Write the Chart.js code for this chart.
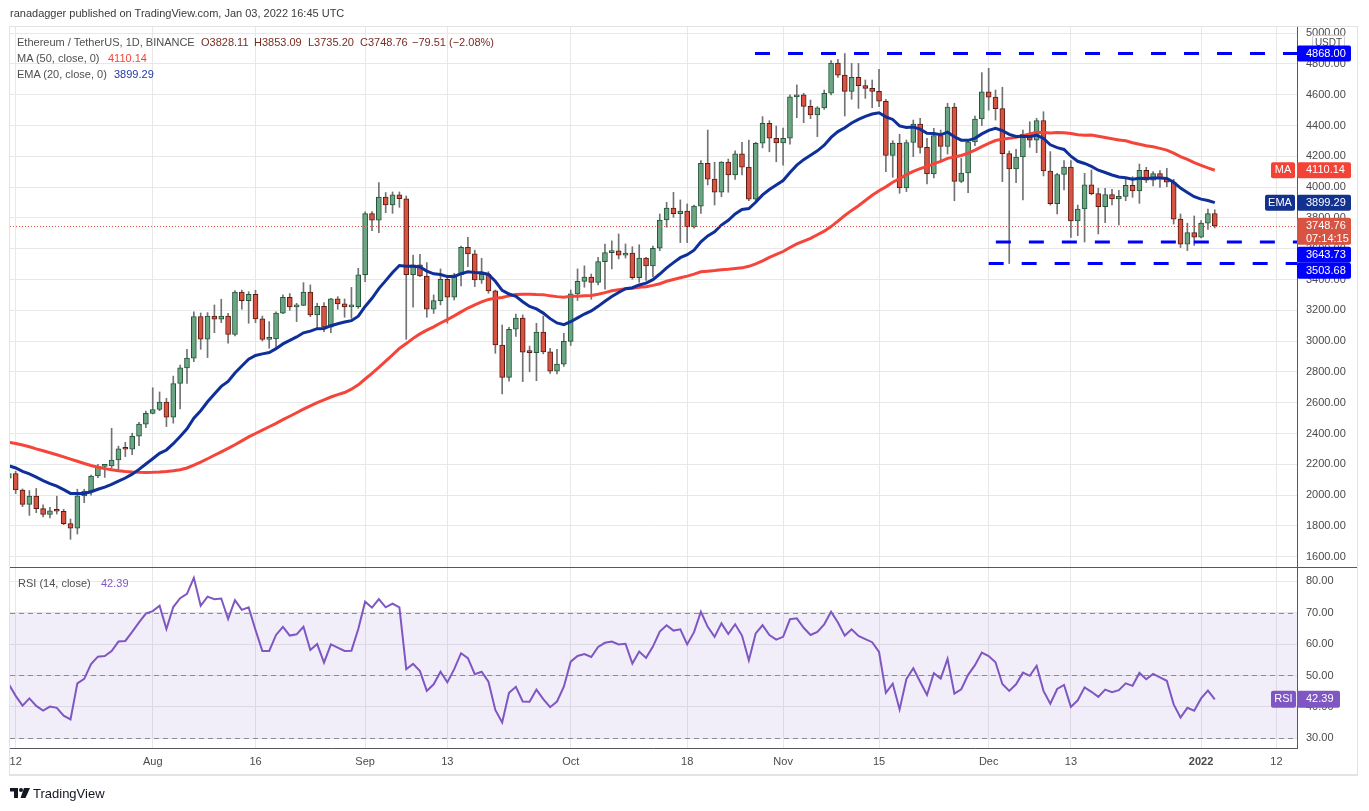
<!DOCTYPE html>
<html>
<head>
<meta charset="utf-8">
<title>ETHUSDT 1D</title>
<script src="https://cdn.jsdelivr.net/npm/chart.js@4.4.1/dist/chart.umd.min.js"></script>
<style>
  html, body { margin: 0; background: #fff; }
  #wrap { position: relative; width: 1369px; height: 811px; overflow: hidden; font-family: 'Liberation Sans', Arial, sans-serif; font-size: 11px; }
  canvas { position: absolute; left: 0; }
  .t { position: absolute; white-space: pre; line-height: 13px; color: #4f4f4f; }
  #frame { position: absolute; left: 9px; top: 26px; width: 1347px; height: 747px; border: 1px solid #e3e3e3; border-bottom-width: 2px; pointer-events: none; }
</style>
</head>
<body>
<div id="wrap">
  <canvas id="price" width="1369" height="568" style="top:0"></canvas>
  <canvas id="rsi" width="1369" height="244" style="top:567px"></canvas>
  <div id="frame"></div>

  <div class="t" style="left:10px;top:7px;color:#3a3a3a">ranadagger published on TradingView.com, Jan 03, 2022 16:45 UTC</div>

  <div class="t" style="left:17px;top:36px">Ethereum / TetherUS, 1D, BINANCE</div>
  <div class="t" style="left:201px;top:36px;color:#7a2b22">O3828.11</div>
  <div class="t" style="left:254px;top:36px;color:#7a2b22">H3853.09</div>
  <div class="t" style="left:308px;top:36px;color:#7a2b22">L3735.20</div>
  <div class="t" style="left:360px;top:36px;color:#7a2b22">C3748.76</div>
  <div class="t" style="left:412px;top:36px;color:#7a2b22">−79.51 (−2.08%)</div>
  <div class="t" style="left:17px;top:52px">MA (50, close, 0)</div>
  <div class="t" style="left:108px;top:52px;color:#f44336">4110.14</div>
  <div class="t" style="left:17px;top:68px">EMA (20, close, 0)</div>
  <div class="t" style="left:114px;top:68px;color:#1f3aa5">3899.29</div>

  <div class="t" style="left:18px;top:577px">RSI (14, close)</div>
  <div class="t" style="left:101px;top:577px;color:#7e57c2">42.39</div>

  <svg style="position:absolute;left:10px;top:788px" width="21" height="11" viewBox="0 0 21 11">
    <path d="M0 0H8V10H4V3.5H0Z" fill="#131722"/>
    <circle cx="11" cy="2" r="2" fill="#131722"/>
    <path d="M14 0H20L15.5 10H10.5Z" fill="#131722"/>
  </svg>
  <div class="t" style="left:33px;top:786px;font-size:13px;line-height:16px;color:#131722">TradingView</div>
</div>

<script>
// day index: 0 = 12 Jul 2021, first candle (-1) = 11 Jul 2021, last (175) = 3 Jan 2022
const firstDay = -1;

const opens = [
  2110, 2139, 2033, 1940, 1994, 1912, 1874, 1898, 1895, 1815,
  1785, 1995, 2026, 2124, 2186, 2190, 2228, 2300, 2298, 2382,
  2461, 2531, 2556, 2604, 2506, 2725, 2826, 2890, 3160, 3012,
  3163, 3142, 3163, 3043, 3318, 3262, 3304, 3145, 3011, 3014,
  3182, 3285, 3222, 3232, 3318, 3170, 3226, 3090, 3274, 3242,
  3222, 3224, 3431, 3828, 3785, 3936, 3884, 3950, 3925, 3432,
  3496, 3423, 3207, 3263, 3402, 3285, 3431, 3609, 3567, 3397,
  3434, 3326, 2975, 2765, 3077, 3150, 2928, 2925, 3058, 2930,
  2805, 2851, 2998, 3307, 3388, 3416, 3382, 3516, 3575, 3586,
  3558, 3572, 3412, 3540, 3488, 3603, 3787, 3864, 3828, 3844,
  3742, 3877, 4155, 4052, 3968, 4163, 4080, 4216, 4130, 3922,
  4285, 4414, 4318, 4287, 4318, 4586, 4600, 4525, 4470, 4515,
  4610, 4806, 4728, 4622, 4713, 4660, 4642, 4622, 4558, 4206,
  4287, 3995, 4290, 4410, 4258, 4086, 4335, 4265, 4520, 4038,
  4092, 4294, 4443, 4620, 4585, 4510, 4218, 4118, 4196, 4343,
  4305, 4433, 4105, 3893, 4082, 4130, 3780, 3858, 4015, 3958,
  3874, 3952, 3924, 3940, 4012, 3975, 4110, 4045, 4088, 4058,
  4032, 3792, 3629, 3705, 3675, 3766, 3828.11
];
const highs = [
  2150, 2155, 2040, 2030, 2043, 1936, 1921, 1993, 1908, 1845,
  2038, 2038, 2130, 2200, 2195, 2434, 2318, 2343, 2402, 2473,
  2546, 2697, 2670, 2629, 2773, 2845, 2947, 3191, 3183, 3185,
  3235, 3272, 3180, 3328, 3332, 3321, 3330, 3163, 3127, 3190,
  3300, 3309, 3246, 3380, 3365, 3246, 3250, 3278, 3289, 3274,
  3349, 3473, 3839, 3841, 4030, 3965, 3969, 3969, 3943, 3559,
  3564, 3510, 3300, 3469, 3429, 3441, 3618, 3674, 3591, 3538,
  3451, 3332, 3105, 3090, 3176, 3170, 2968, 3116, 3163, 2954,
  2947, 3050, 3332, 3469, 3489, 3436, 3545, 3631, 3651, 3696,
  3631, 3613, 3626, 3545, 3617, 3826, 3902, 3967, 3917, 3891,
  3884, 4172, 4371, 4162, 4166, 4183, 4236, 4292, 4306, 4291,
  4458, 4432, 4397, 4383, 4599, 4664, 4610, 4566, 4523, 4631,
  4822, 4830, 4868, 4804, 4804, 4696, 4696, 4765, 4570, 4302,
  4343, 4306, 4436, 4447, 4317, 4382, 4371, 4545, 4545, 4187,
  4306, 4462, 4744, 4772, 4631, 4649, 4235, 4246, 4371, 4425,
  4447, 4490, 4231, 4090, 4172, 4172, 3884, 4090, 4112, 3993,
  3993, 3986, 3980, 4057, 4068, 4150, 4129, 4101, 4107, 4122,
  4051, 3826, 3766, 3813, 3783, 3858, 3853.09
];
const lows = [
  2085, 2010, 1925, 1868, 1886, 1858, 1852, 1877, 1808, 1713,
  1747, 1951, 2000, 2113, 2115, 2175, 2160, 2250, 2262, 2321,
  2438, 2527, 2548, 2445, 2467, 2560, 2726, 2866, 2947, 2893,
  3055, 3120, 2986, 3033, 3207, 3116, 3120, 3001, 2954, 2960,
  3178, 3200, 3127, 3230, 3159, 3083, 3062, 3055, 3207, 3155,
  3148, 3213, 3386, 3717, 3705, 3834, 3830, 3869, 3012, 3220,
  3419, 3155, 3180, 3235, 3116, 3267, 3358, 3483, 3354, 3375,
  3311, 2921, 2657, 2740, 3030, 2737, 2801, 2743, 2917, 2791,
  2787, 2835, 2972, 3264, 3350, 3272, 3365, 3338, 3469, 3534,
  3540, 3402, 3382, 3395, 3418, 3588, 3740, 3804, 3640, 3640,
  3733, 3830, 4014, 3884, 3938, 3967, 4051, 4079, 3912, 3900,
  4255, 4230, 4165, 4143, 4280, 4451, 4419, 4445, 4328, 4505,
  4599, 4713, 4462, 4571, 4512, 4577, 4516, 4523, 4100, 4064,
  3960, 3971, 4198, 4220, 4021, 4060, 4165, 4215, 3912, 4030,
  3965, 4270, 4400, 4500, 4436, 4036, 3503.68, 4030, 3917, 4259,
  4224, 4073, 3884, 3826, 3982, 3674, 3685, 3643.73, 3950, 3696,
  3770, 3884, 3754, 3912, 3934, 3895, 4030, 4008, 3999, 4003,
  3761, 3608, 3588, 3622, 3670, 3726, 3735.20
];
const closes = [
  2139, 2033, 1940, 1994, 1912, 1874, 1898, 1895, 1815, 1785,
  1995, 2026, 2124, 2186, 2190, 2228, 2300, 2298, 2382, 2461,
  2531, 2556, 2604, 2506, 2725, 2826, 2890, 3160, 3012, 3163,
  3142, 3163, 3043, 3318, 3262, 3304, 3145, 3011, 3014, 3182,
  3285, 3222, 3232, 3318, 3170, 3226, 3090, 3274, 3242, 3222,
  3224, 3431, 3828, 3785, 3936, 3884, 3950, 3925, 3432, 3496,
  3423, 3207, 3263, 3402, 3285, 3431, 3609, 3567, 3397, 3434,
  3326, 2975, 2765, 3077, 3150, 2928, 2925, 3058, 2930, 2805,
  2851, 2998, 3307, 3388, 3416, 3382, 3516, 3575, 3586, 3558,
  3572, 3412, 3540, 3488, 3603, 3787, 3864, 3828, 3844, 3742,
  3877, 4155, 4052, 3968, 4163, 4080, 4216, 4130, 3922, 4285,
  4414, 4318, 4287, 4318, 4586, 4600, 4525, 4470, 4515, 4610,
  4806, 4728, 4622, 4713, 4660, 4642, 4622, 4558, 4206, 4287,
  3995, 4290, 4410, 4258, 4086, 4335, 4265, 4520, 4038, 4092,
  4294, 4443, 4620, 4585, 4510, 4218, 4118, 4196, 4343, 4305,
  4433, 4105, 3893, 4082, 4130, 3780, 3858, 4015, 3958, 3874,
  3952, 3924, 3940, 4012, 3975, 4110, 4045, 4088, 4058, 4032,
  3792, 3629, 3705, 3675, 3766, 3828.11, 3748.76
];
const ma50 = [
  2343, 2335, 2325, 2314, 2300, 2288, 2275, 2262, 2248, 2234,
  2220, 2205, 2192, 2181, 2172, 2164, 2158, 2153, 2150, 2148,
  2147, 2148, 2150, 2153, 2158, 2165, 2176, 2195, 2214, 2236,
  2259, 2281, 2303, 2327, 2352, 2378, 2400, 2422, 2444, 2466,
  2490, 2512, 2535, 2558, 2580, 2600, 2618, 2637, 2652, 2666,
  2688, 2716, 2754, 2790, 2830, 2870, 2911, 2952, 2984, 3018,
  3047, 3071, 3093, 3118, 3140, 3164, 3190, 3215, 3236, 3255,
  3271, 3279, 3283, 3294, 3303, 3305, 3305, 3303, 3302, 3294,
  3289, 3285, 3291, 3292, 3295, 3297, 3304, 3315, 3327, 3334,
  3340, 3344, 3350, 3353, 3362, 3373, 3389, 3400, 3412, 3422,
  3435, 3450, 3454, 3458, 3463, 3467, 3472, 3476, 3486, 3502,
  3521, 3544, 3564, 3582, 3608, 3632, 3650, 3668, 3691, 3714,
  3744, 3779, 3816, 3849, 3879, 3913, 3947, 3977, 4002, 4032,
  4055, 4081, 4103, 4120, 4134, 4153, 4168, 4187, 4196, 4206,
  4221, 4241, 4263, 4285, 4303, 4312, 4317, 4324, 4334, 4345,
  4356, 4355, 4352, 4355, 4354, 4348, 4341, 4338, 4339, 4331,
  4322, 4314, 4307, 4301, 4289, 4279, 4269, 4262, 4252, 4241,
  4221, 4199, 4180, 4159, 4142, 4125, 4110.14
];
const ema20 = [
  2191, 2176, 2154, 2138, 2117, 2094, 2075, 2058, 2035, 2011,
  2010, 2011, 2022, 2038, 2052, 2069, 2091, 2111, 2136, 2167,
  2202, 2236, 2271, 2293, 2334, 2381, 2430, 2499, 2548, 2606,
  2657, 2706, 2738, 2793, 2838, 2882, 2907, 2917, 2926, 2951,
  2982, 3005, 3027, 3054, 3065, 3081, 3082, 3100, 3113, 3124,
  3133, 3162, 3225, 3278, 3341, 3393, 3446, 3491, 3486, 3487,
  3481, 3455, 3437, 3433, 3419, 3420, 3438, 3450, 3445, 3444,
  3433, 3389, 3330, 3306, 3291, 3256, 3225, 3209, 3182, 3146,
  3118, 3107, 3126, 3151, 3176, 3196, 3226, 3259, 3290, 3316,
  3340, 3347, 3365, 3377, 3399, 3436, 3476, 3510, 3542, 3561,
  3591, 3645, 3683, 3710, 3754, 3785, 3826, 3855, 3861, 3902,
  3950, 3985, 4014, 4043, 4095, 4143, 4179, 4207, 4236, 4272,
  4323, 4361, 4386, 4417, 4440, 4460, 4475, 4483, 4457, 4440,
  4398, 4388, 4390, 4377, 4350, 4348, 4340, 4357, 4327, 4305,
  4304, 4317, 4346, 4369, 4382, 4367, 4343, 4329, 4330, 4328,
  4338, 4316, 4275, 4257, 4245, 4201, 4168, 4154, 4135, 4110,
  4095, 4079, 4066, 4061, 4052, 4058, 4057, 4060, 4060, 4057,
  4032, 3994, 3966, 3938, 3922, 3913, 3899.29
];
const rsi14 = [
  47.2, 43.5, 40.4, 42.7, 40.3, 38.8, 40.1, 39.7, 37.2, 36.0,
  47.5, 48.9, 53.6, 56.0, 56.2, 57.8, 60.8, 61.0, 63.9, 66.9,
  69.7, 70.5, 72.2, 64.8, 71.8, 74.6, 76.0, 81.1, 72.2, 75.1,
  74.3, 74.5, 68.0, 74.0, 70.9, 71.7, 64.5, 57.8, 57.8, 62.9,
  65.5, 62.7, 63.1, 65.5, 58.1, 60.0, 54.1, 59.9, 58.9, 57.8,
  57.9, 64.8, 73.5, 71.6, 74.3, 71.7, 72.9, 71.7, 52.0, 53.7,
  51.4, 45.1, 47.2, 51.2, 47.8, 52.0, 57.1, 55.5, 50.4, 51.2,
  48.0, 39.0, 35.0, 44.5, 46.4, 41.7, 41.6, 45.5, 42.5, 39.9,
  41.7, 46.4, 54.4, 56.2, 56.8, 55.9, 59.1, 60.4, 60.8, 59.9,
  60.1, 53.8, 57.6, 55.6, 59.2, 64.0, 66.0, 64.3, 64.7, 59.9,
  63.8, 70.3, 65.5, 62.3, 66.6, 63.2, 66.3, 62.7, 54.8, 63.4,
  66.0, 62.9, 61.4, 62.3, 67.9, 68.2, 65.2, 62.9, 63.9, 66.3,
  70.3, 66.9, 62.7, 64.7, 62.6, 61.6, 60.6, 57.5, 44.5, 47.4,
  39.2, 48.9, 52.3, 48.0, 43.8, 50.7, 49.0, 55.3, 44.2, 45.6,
  50.2, 53.3, 57.3, 56.2, 54.2, 47.3, 45.1, 47.2, 50.9, 49.9,
  53.1, 45.1, 41.0, 45.7, 47.0, 40.0, 42.1, 46.2, 44.8, 43.2,
  45.5, 44.7, 45.3, 47.5, 46.7, 50.8, 48.8, 50.5, 49.4, 48.3,
  40.8, 36.6, 39.7, 38.8, 42.7, 45.2, 42.39
];

const tickDays = [0, 20, 35, 51, 63, 81, 98, 112, 126, 142, 154, 173, 184];
const tickLabels = ['12', 'Aug', '16', 'Sep', '13', 'Oct', '18', 'Nov', '15', 'Dec', '13', '2022', '12'];
const priceTicks = [1600, 1800, 2000, 2200, 2400, 2600, 2800, 3000, 3200, 3400, 3600, 3800, 4000, 4200, 4400, 4600, 4800, 5000];
const rsiTicks = [30, 40, 50, 60, 70, 80];

// drawn horizontal levels (price) and the day they start from
const levels = [4868.00, 3643.73, 3503.68];
const levelFrom = [107.9, 143.05, 142.0];

const lastClose = 3748.76;
const lastMA = 4110.14;
const lastEMA = 3899.29;
const lastRSI = 42.39;

// ---- look ----
const FONT = "'Liberation Sans', Arial, sans-serif";
Chart.defaults.font.family = FONT;
Chart.defaults.font.size = 11;
Chart.defaults.color = '#4a4a4a';

const gridColor = '#e8e8e8';
const axisLine = '#55585f';
const xMin = -0.83, xMax = 187.0;

const xs = closes.map((_, k) => k + firstDay);
const up = closes.map((c, k) => c >= opens[k]);

function tag(ctx, x, y, w, h, bg, lines, fg, center) {
  ctx.save();
  ctx.fillStyle = bg;
  ctx.beginPath();
  ctx.roundRect(x, y, w, h, 2);
  ctx.fill();
  ctx.fillStyle = fg;
  ctx.font = '11px ' + FONT;
  ctx.textBaseline = 'middle';
  ctx.textAlign = center ? 'center' : 'left';
  const tx = center ? x + w / 2 : x + 9;
  lines.forEach((s, k) => ctx.fillText(s, tx, y + 8 + k * 13));
  ctx.restore();
}

// no extra label padding: the plot area must sit exactly where the panes are
function yFit(s) { s.width = 61; s.paddingTop = 0; s.paddingBottom = 0; }
function xFit(h) { return s => { s.height = h; s.paddingLeft = 0; s.paddingRight = 0; }; }

const xScaleBase = {
  type: 'linear', min: xMin, max: xMax, offset: false,
  grid: { color: gridColor, drawTicks: false, offset: false },
  border: { display: false },
  afterBuildTicks: s => { s.ticks = tickDays.map(v => ({ value: v })); }
};

const priceDecor = {
  id: 'priceDecor',
  afterDatasetsDraw(chart) {
    const { ctx, chartArea: a, scales: { y } } = chart;
    const py = Math.round(y.getPixelForValue(lastClose)) + 0.5;
    ctx.save();
    ctx.strokeStyle = '#d75442';
    ctx.lineWidth = 1;
    ctx.setLineDash([1, 2]);
    ctx.beginPath(); ctx.moveTo(a.left, py); ctx.lineTo(a.right, py); ctx.stroke();
    ctx.restore();
  },
  afterDraw(chart) {
    const { ctx, scales: { y } } = chart;
    const ax = y.left;
    // USDT badge
    ctx.save();
    ctx.fillStyle = '#fff';
    ctx.strokeStyle = '#c9ccd4';
    ctx.beginPath(); ctx.roundRect(ax + 15.5, 35.5, 32, 15, 2); ctx.fill(); ctx.stroke();
    ctx.fillStyle = '#4a4a4a'; ctx.font = '10px ' + FONT; ctx.textAlign = 'center'; ctx.textBaseline = 'middle';
    ctx.fillText('USDT', ax + 31.5, 43.5);
    ctx.restore();

    const yv = v => y.getPixelForValue(v);
    tag(ctx, ax, yv(levels[0]) - 8, 54, 16, '#0000ff', ['4868.00'], '#fff');
    tag(ctx, ax - 26, yv(lastMA) - 8, 24, 16, '#f44336', ['MA'], '#fff', true);
    tag(ctx, ax, yv(lastMA) - 8, 54, 16, '#f44336', [lastMA.toFixed(2)], '#fff');
    tag(ctx, ax - 32, yv(lastEMA) - 8, 30, 16, '#13318f', ['EMA'], '#fff', true);
    tag(ctx, ax, yv(lastEMA) - 8, 54, 16, '#13318f', [lastEMA.toFixed(2)], '#fff');
    const top = yv(lastClose) - 8;
    tag(ctx, ax, top, 54, 27, '#d75442', [lastClose.toFixed(2), '07:14:15'], '#fff');
    tag(ctx, ax, top + 29, 54, 16, '#0000ff', [levels[1].toFixed(2)], '#fff');
    tag(ctx, ax, top + 45, 54, 16, '#0000ff', [levels[2].toFixed(2)], '#fff');
  }
};

const rsiDecor = {
  id: 'rsiDecor',
  beforeDatasetsDraw(chart) {
    const { ctx, chartArea: a, scales: { y } } = chart;
    ctx.save();
    ctx.fillStyle = 'rgba(126, 87, 194, 0.1)';
    const t = y.getPixelForValue(70), b = y.getPixelForValue(30);
    ctx.fillRect(a.left, t, a.right - a.left, b - t);
    ctx.strokeStyle = '#8a8c94';
    ctx.lineWidth = 1;
    ctx.setLineDash([5, 4]);
    [70, 50, 30].forEach(v => {
      const p = Math.round(y.getPixelForValue(v)) + 0.5;
      ctx.beginPath(); ctx.moveTo(a.left, p); ctx.lineTo(a.right, p); ctx.stroke();
    });
    ctx.restore();
  },
  afterDraw(chart) {
    const { ctx, chartArea: a, scales: { y } } = chart;
    ctx.save();
    ctx.strokeStyle = axisLine;
    ctx.lineWidth = 1;
    ctx.beginPath(); ctx.moveTo(a.left, 0.5); ctx.lineTo(1358, 0.5); ctx.stroke();
    ctx.beginPath(); ctx.moveTo(a.left, a.bottom + 0.5); ctx.lineTo(a.right, a.bottom + 0.5); ctx.stroke();
    ctx.restore();
    const ax = y.left, ry = y.getPixelForValue(lastRSI);
    tag(ctx, ax - 26, ry - 8.5, 25, 17, '#7e57c2', ['RSI'], '#fff', true);
    tag(ctx, ax, ry - 8.5, 43, 17, '#7e57c2', [lastRSI.toFixed(2)], '#fff');
  }
};

new Chart(document.getElementById('price'), {
  type: 'bar',
  data: {
    datasets: [
      ...levels.map((lv, k) => ({
        type: 'line', data: [{ x: levelFrom[k], y: lv }, { x: xMax + 2, y: lv }],
        borderColor: '#0000ff', borderWidth: 3, borderDash: [15, 18], pointRadius: 0, order: 0
      })),
      { type: 'line', label: 'EMA 20', data: ema20.map((v, k) => ({ x: xs[k], y: v })),
        borderColor: '#0f2f99', borderWidth: 3, pointRadius: 0, order: 1 },
      { type: 'line', label: 'MA 50', data: ma50.map((v, k) => ({ x: xs[k], y: v })),
        borderColor: '#f5453a', borderWidth: 3, pointRadius: 0, order: 2 },
      { label: 'body', data: xs.map((x, k) => ({ x, y: [opens[k], closes[k]] })),
        backgroundColor: up.map(u => u ? '#6ba583' : '#d75442'),
        borderColor: up.map(u => u ? '#225437' : '#5b1a13'),
        borderWidth: 1, borderSkipped: false, barThickness: 5, maxBarThickness: 5,
        minBarLength: 2, grouped: false, order: 3 },
      { label: 'wick', data: xs.map((x, k) => ({ x, y: [lows[k], highs[k]] })),
        backgroundColor: '#737375', barThickness: 1, maxBarThickness: 1, grouped: false, order: 4 }
    ]
  },
  options: {
    responsive: false, animation: false, devicePixelRatio: 1,
    layout: { padding: { left: 10, top: 26, right: 11, bottom: 1 } },
    plugins: { legend: { display: false }, tooltip: { enabled: false } },
    scales: {
      x: { ...xScaleBase, ticks: { display: false }, afterFit: xFit(0) },
      y: {
        position: 'right', min: 1532.9, max: 5046.8, beginAtZero: false,
        grid: { color: gridColor, drawTicks: false },
        border: { display: true, color: axisLine, width: 1 },
        ticks: { padding: 9, autoSkip: false, callback: v => v.toFixed(2) },
        afterBuildTicks: s => { s.ticks = priceTicks.map(v => ({ value: v })); },
        afterFit: yFit
      }
    }
  },
  plugins: [priceDecor]
});

new Chart(document.getElementById('rsi'), {
  type: 'line',
  data: {
    datasets: [{ label: 'RSI', data: rsi14.map((v, k) => ({ x: xs[k], y: v })),
      borderColor: '#7e57c2', borderWidth: 2, pointRadius: 0 }]
  },
  options: {
    responsive: false, animation: false, devicePixelRatio: 1,
    layout: { padding: { left: 10, top: 0, right: 11, bottom: 36 } },
    plugins: { legend: { display: false }, tooltip: { enabled: false } },
    scales: {
      x: {
        ...xScaleBase,
        ticks: {
          padding: 7, autoSkip: false, maxRotation: 0, color: '#4a4a4a',
          font: c => ({ size: 11, weight: c.tick && c.tick.value === 173 ? 'bold' : 'normal' }),
          callback: v => { const k = tickDays.indexOf(v); return k < 0 ? '' : tickLabels[k]; }
        },
        afterFit: xFit(27)
      },
      y: {
        position: 'right', min: 26.9, max: 84.55,
        grid: { color: gridColor, drawTicks: false },
        border: { display: true, color: axisLine, width: 1 },
        ticks: { padding: 9, autoSkip: false, callback: v => v.toFixed(2) },
        afterBuildTicks: s => { s.ticks = rsiTicks.map(v => ({ value: v })); },
        afterFit: yFit
      }
    }
  },
  plugins: [rsiDecor]
});
</script>
</body>
</html>
